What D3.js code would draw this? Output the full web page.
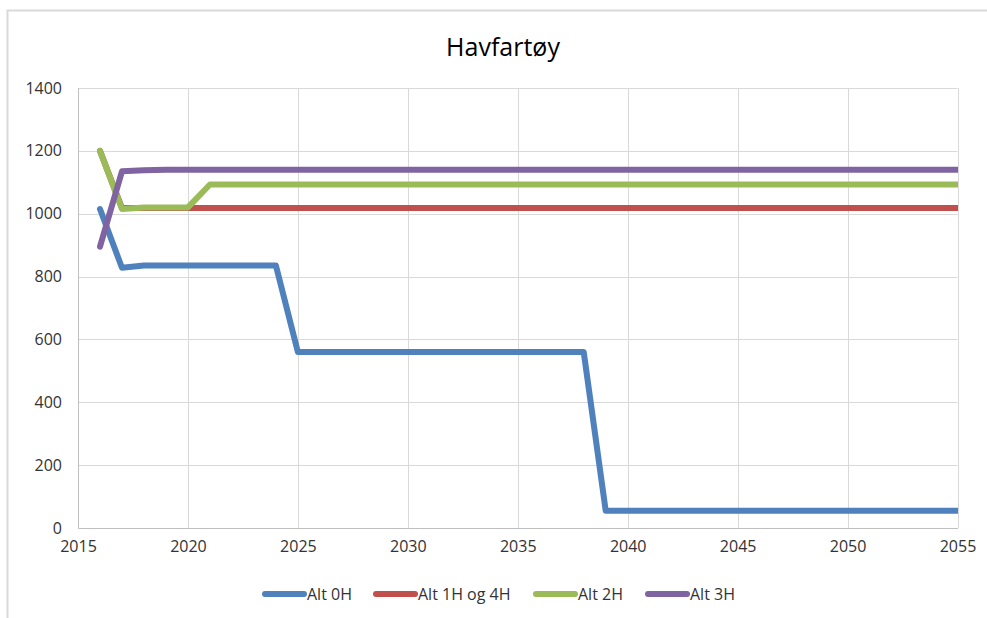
<!DOCTYPE html>
<html><head><meta charset="utf-8">
<script src="https://cdn.jsdelivr.net/npm/d3@7"></script>
<style>body{margin:0;background:#fff;} text{font-family:"Open Sans","Liberation Sans",sans-serif;}</style>
</head><body>
<svg id="c" width="987" height="618"></svg>
<script>
const years = d3.range(2016, 2056);
const alt0H = [1015,828,835,835,835,835,835,835,835,560,560,560,560,560,560,560,560,560,560,560,560,560,560,55,55,55,55,55,55,55,55,55,55,55,55,55,55,55,55,55];
const alt1H4H = [1200,1018,1018,1018,1018,1018,1018,1018,1018,1018,1018,1018,1018,1018,1018,1018,1018,1018,1018,1018,1018,1018,1018,1018,1018,1018,1018,1018,1018,1018,1018,1018,1018,1018,1018,1018,1018,1018,1018,1018];
const alt2H = [1200,1015,1020,1020,1020,1093,1093,1093,1093,1093,1093,1093,1093,1093,1093,1093,1093,1093,1093,1093,1093,1093,1093,1093,1093,1093,1093,1093,1093,1093,1093,1093,1093,1093,1093,1093,1093,1093,1093,1093];
const alt3H = [895,1135,1138,1140,1140,1140,1140,1140,1140,1140,1140,1140,1140,1140,1140,1140,1140,1140,1140,1140,1140,1140,1140,1140,1140,1140,1140,1140,1140,1140,1140,1140,1140,1140,1140,1140,1140,1140,1140,1140];
const seriesNames = ["Alt 0H","Alt 1H og 4H","Alt 2H","Alt 3H"];
const seriesColors = ["#4F81BD","#C0504D","#9BBB59","#8064A2"];
const xTicks = [2015,2020,2025,2030,2035,2040,2045,2050,2055];
const yTicks = [0,200,400,600,800,1000,1200,1400];
const title = "Havfartøy";

const series = [alt0H, alt1H4H, alt2H, alt3H];
const svg = d3.select("#c");
// outer chart border
svg.append("path").attr("d","M7.5,618 V10.5 H987").attr("fill","none").attr("stroke","#d9d9d9").attr("stroke-width",2);

const L=78, R=957.5, T=88, B=528;
const x = d3.scaleLinear().domain([2015,2055]).range([L,R]);
const y = d3.scaleLinear().domain([0,1400]).range([B,T]);

// gridlines
svg.append("g").selectAll("line").data(yTicks).join("line")
  .attr("x1",L).attr("x2",R).attr("y1",d=>Math.round(y(d))+0.5).attr("y2",d=>Math.round(y(d))+0.5)
  .attr("stroke","#d9d9d9").attr("stroke-width",1);
svg.append("g").selectAll("line").data(xTicks).join("line")
  .attr("y1",T).attr("y2",B).attr("x1",d=>Math.round(x(d))+0.5).attr("x2",d=>Math.round(x(d))+0.5)
  .attr("stroke","#d9d9d9").attr("stroke-width",1);

// axes
const yAxis = svg.append("g").attr("transform",`translate(${L},0)`)
  .call(d3.axisLeft(y).tickValues(yTicks).tickSize(0).tickPadding(16).tickFormat(d3.format("d")));
yAxis.select(".domain").remove();
yAxis.selectAll("text").attr("font-size",16).attr("fill","#333").attr("font-family","Open Sans, Liberation Sans, sans-serif");
const xAxis = svg.append("g").attr("transform",`translate(0,${B})`)
  .call(d3.axisBottom(x).tickValues(xTicks).tickSize(0).tickPadding(13).tickFormat(d3.format("d")));
xAxis.select(".domain").attr("stroke","#bfbfbf");
xAxis.selectAll("text").attr("font-size",16).attr("fill","#333").attr("font-family","Open Sans, Liberation Sans, sans-serif");
svg.append("line").attr("x1",L+0.5).attr("x2",L+0.5).attr("y1",T).attr("y2",B).attr("stroke","#bfbfbf");

svg.append("clipPath").attr("id","clip").append("rect").attr("x",L-10).attr("y",T-20).attr("width",R-L+10.5).attr("height",B-T+40);

const line = d3.line().x((d,i)=>x(years[i])).y(d=>y(d));
svg.append("g").attr("clip-path","url(#clip)").selectAll("path").data(series).join("path")
  .attr("d",line).attr("fill","none").attr("stroke",(d,i)=>seriesColors[i])
  .attr("stroke-width",6).attr("stroke-linejoin","round").attr("stroke-linecap","round");

// title
svg.append("text").attr("x",503).attr("y",56).attr("text-anchor","middle")
  .attr("font-size",25).attr("fill","#000").text(title);

// legend
const legX = [262,373,533,645];
const lg = svg.append("g").selectAll("g").data(seriesNames).join("g")
  .attr("transform",(d,i)=>`translate(${legX[i]},594)`);
lg.append("line").attr("x1",3).attr("x2",42).attr("y1",0).attr("y2",0)
  .attr("stroke",(d,i)=>seriesColors[i]).attr("stroke-width",6).attr("stroke-linecap","round");
lg.append("text").attr("x",45).attr("y",6).attr("font-size",16).attr("fill","#333").text(d=>d);
</script>
</body></html>
